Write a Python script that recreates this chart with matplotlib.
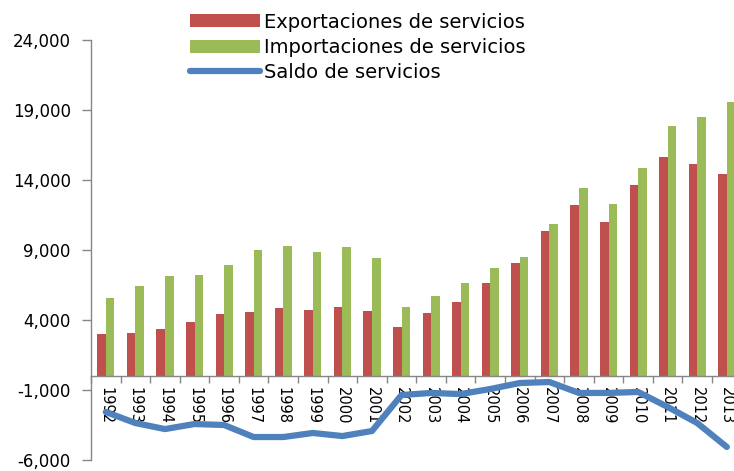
import matplotlib.pyplot as plt
import numpy as np

plt.rcParams['font.family'] = ['DejaVu Sans']

# Values (millions)
years = ['1992', '1993', '1994', '1995', '1996', '1997', '1998', '1999', '2000', '2001', '2002',
         '2003', '2004', '2005', '2006', '2007', '2008', '2009', '2010', '2011', '2012', '2013']
exportaciones = [3000, 3070, 3360, 3860, 4430, 4570, 4860, 4710, 4930, 4640, 3500,
                 4500, 5290, 6640, 8070, 10360, 12210, 11000, 13640, 15640, 15140, 14430]
importaciones = [5570, 6430, 7140, 7200, 7930, 9000, 9290, 8860, 9210, 8430, 4930,
                 5710, 6640, 7710, 8500, 10860, 13430, 12290, 14860, 17860, 18500, 19570]
saldo = [-2570, -3360, -3790, -3430, -3500, -4360, -4360, -4070, -4290, -3930, -1360,
         -1210, -1290, -930, -500, -430, -1210, -1210, -1140, -2210, -3360, -5070]
yticks = [-6000, -1000, 4000, 9000, 14000, 19000, 24000]

red = '#C0504D'
green = '#9BBB59'
blue = '#4F81BD'
axis_gray = '#868686'

fig = plt.figure(figsize=(7.34, 4.71), dpi=100)
ax = fig.add_axes([91 / 734, 11 / 471, 650.6 / 734, 420 / 471])

x = np.arange(len(years))
w = 0.29
ax.bar(x - w / 2, exportaciones, w, color=red, label='Exportaciones de servicios', zorder=2)
ax.bar(x + w / 2, importaciones, w, color=green, label='Importaciones de servicios', zorder=2)
ax.plot(x, saldo, color=blue, lw=4.5, solid_capstyle='round', solid_joinstyle='round',
        label='Saldo de servicios', zorder=3)

ax.set_xlim(-0.5, len(years) - 0.5)
ax.set_ylim(-6000, 24000)
ax.set_yticks(yticks)
ax.set_yticklabels([f'{v:,}' for v in yticks])
ax.tick_params(axis='y', length=6.5, width=1, color=axis_gray, pad=8, labelsize=12)

# category labels at centres, tick marks at boundaries
ax.set_xticks(x)
ax.set_xticklabels(years)
ax.set_xticks(np.arange(len(years) + 1) - 0.5, minor=True)
ax.tick_params(axis='x', which='minor', length=5, width=1, color=axis_gray)
ax.tick_params(axis='x', which='major', length=0, pad=8, labelsize=10.5, labelrotation=-90)
for lab in ax.get_xticklabels():
    lab.set_va('top')
    lab.set_ha('center')

ax.spines['bottom'].set_position(('data', 0))
for side in ['top', 'right']:
    ax.spines[side].set_visible(False)
for side in ['left', 'bottom']:
    ax.spines[side].set_color(axis_gray)
    ax.spines[side].set_linewidth(1)

h, l = ax.get_legend_handles_labels()
order = [1, 2, 0]
fig.legend([h[i] for i in order], [l[i] for i in order], loc='upper left',
           bbox_to_anchor=(177 / 734, 1.0), frameon=False, fontsize=14,
           handlelength=3.6, handleheight=0.65, handletextpad=0.2, labelspacing=0.32,
           borderaxespad=0.25)

fig.savefig('out.png', dpi=100)
